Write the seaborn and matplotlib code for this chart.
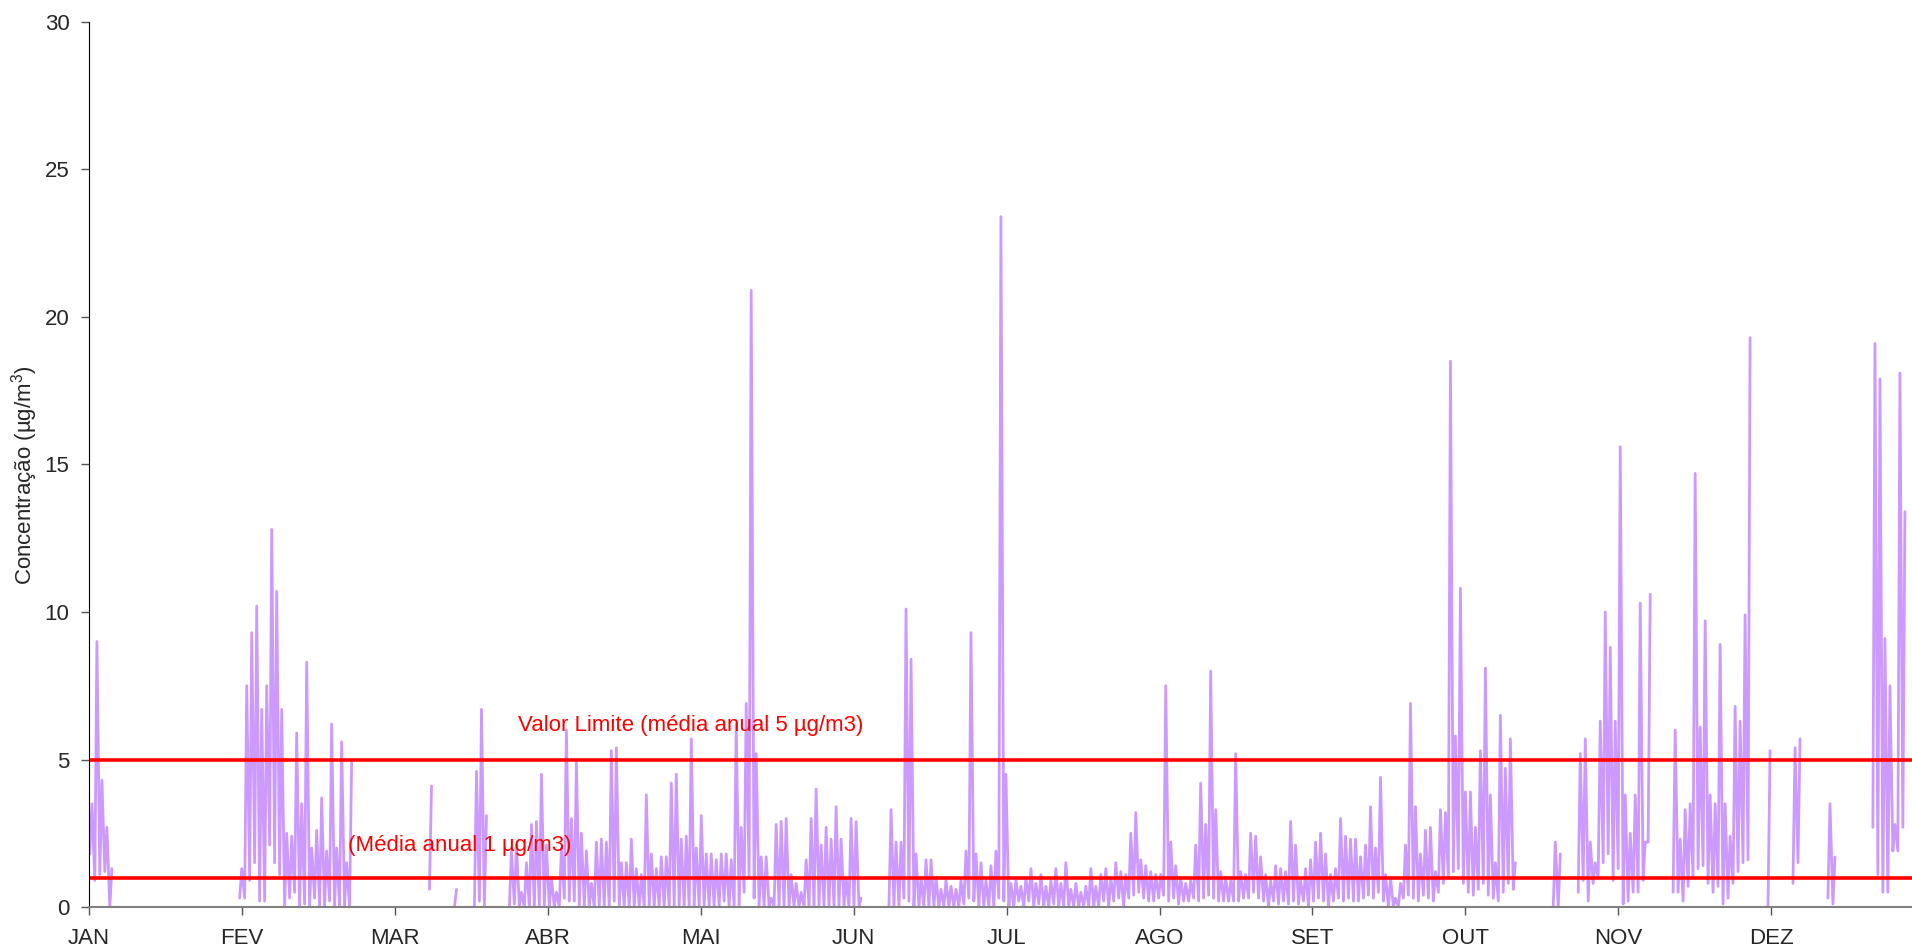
import numpy as np
import pandas as pd
import matplotlib
matplotlib.use('Agg')
import matplotlib.pyplot as plt
import seaborn as sns

# daily (max, min) concentration, None = no data
N = None
jan = [(3.5, 1.8), (9.0, 0.9), (4.3, 1.1), (2.7, 1.2), (1.3, 0.0)] + [N] * 25 + [(1.3, 0.3)]
fev = [(7.5, 0.3), (9.3, 0.9), (10.2, 1.5), (6.7, 0.2), (7.5, 0.2), (12.8, 2.1), (10.7, 1.5),
       (6.7, 1.1), (2.5, 0.0), (2.4, 0.3), (5.9, 0.5), (3.5, 0.0), (8.3, 0.1), (2.0, 0.0),
       (2.6, 0.3), (3.7, 0.0), (1.9, 0.0), (6.2, 0.2), (2.0, 0.0), (5.6, 0.0), (1.5, 0.0),
       (4.9, 0.0)] + [N] * 6
mar = [N] * 9 + [(4.1, 0.6)] + [N] * 4 + [(0.6, 0.0)] + [N] * 3 + \
      [(4.6, 0.0), (6.7, 0.2), (3.1, 0.0)] + [N] * 4 + \
      [(1.9, 0.0), (2.1, 0.1), (0.5, 0.0), (1.5, 0.0), (2.8, 0.0), (2.9, 0.0)]
abr = [(4.5, 0.0), (2.1, 0.0), (1.0, 0.0), (0.5, 0.0), (2.0, 0.0), (6.0, 0.3), (3.0, 0.2),
       (4.9, 0.2), (2.5, 0.0), (1.9, 0.0), (0.8, 0.0), (2.2, 0.0), (2.3, 0.0), (2.2, 0.0),
       (5.3, 0.0), (5.4, 0.2), (1.5, 0.0), (1.5, 0.0), (2.3, 0.0), (1.3, 0.0), (1.1, 0.0),
       (3.8, 0.0), (1.8, 0.0), (1.3, 0.0), (1.7, 0.0), (1.7, 0.0), (4.2, 0.0), (4.5, 0.0),
       (2.3, 0.0), (2.4, 0.0)]
mai = [(5.7, 0.0), (2.0, 0.0), (3.1, 0.0), (1.8, 0.0), (1.8, 0.0), (1.6, 0.0), (1.8, 0.0),
       (1.8, 0.2), (1.6, 0.0), (6.2, 0.0), (2.7, 0.0), (6.9, 0.5), (20.9, 1.0), (5.2, 0.3),
       (1.7, 0.0), (1.7, 0.0), (0.3, 0.0), (2.8, 0.0), (2.9, 0.0), (3.0, 0.0), (1.1, 0.0),
       (0.8, 0.0), (0.5, 0.0), (1.6, 0.0), (3.0, 0.0), (4.0, 0.0), (2.1, 0.0), (2.7, 0.0),
       (2.3, 0.0), (3.4, 0.0), (2.3, 0.0)]
jun = [(1.0, 0.0), (3.0, 0.0), (2.9, 0.0), (0.3, 0.0)] + [N] * 5 + \
      [(3.3, 0.0), (2.2, 0.0), (2.2, 0.0), (10.1, 0.3), (8.4, 0.2), (1.8, 0.0), (1.0, 0.0),
       (1.6, 0.0), (1.6, 0.0), (1.0, 0.0), (0.6, 0.0), (0.9, 0.0), (0.7, 0.0), (0.6, 0.0),
       (0.9, 0.0), (1.9, 0.1), (9.3, 0.3), (1.8, 0.2), (1.5, 0.0), (0.9, 0.0), (1.4, 0.0)]
jul = [(1.9, 0.0), (23.4, 0.3), (4.5, 0.2), (0.8, 0.0), (0.9, 0.0), (0.7, 0.2), (1.0, 0.0),
       (1.3, 0.2), (0.8, 0.0), (1.1, 0.1), (0.7, 0.0), (0.9, 0.0), (1.3, 0.1), (0.8, 0.0),
       (1.5, 0.0), (0.6, 0.0), (0.8, 0.0), (0.5, 0.0), (0.7, 0.0), (1.3, 0.0), (0.7, 0.0),
       (1.1, 0.0), (1.3, 0.2), (1.0, 0.0), (1.5, 0.2), (1.2, 0.3), (1.1, 0.0), (2.5, 0.3),
       (3.2, 0.4), (1.6, 0.5), (1.4, 0.3)]
ago = [(1.2, 0.2), (1.1, 0.2), (1.1, 0.3), (7.5, 0.4), (2.2, 0.2), (1.4, 0.3), (1.0, 0.1),
       (0.8, 0.2), (0.9, 0.2), (2.1, 0.3), (4.2, 0.2), (2.8, 0.3), (8.0, 0.4), (3.3, 0.3),
       (1.2, 0.2), (1.0, 0.2), (0.9, 0.2), (5.2, 0.2), (1.2, 0.2), (1.1, 0.3), (2.5, 0.3),
       (2.4, 0.5), (1.7, 0.3), (1.1, 0.2), (0.9, 0.0), (1.4, 0.2), (1.3, 0.1), (1.2, 0.2),
       (2.9, 0.1), (2.1, 0.2), (0.9, 0.1)]
set_ = [(1.3, 0.2), (1.6, 0.0), (2.2, 0.2), (2.5, 0.3), (1.8, 0.2), (1.1, 0.0), (1.3, 0.2),
        (3.0, 0.3), (2.4, 0.2), (2.3, 0.3), (2.3, 0.2), (1.7, 0.2), (2.1, 0.3), (3.4, 0.4),
        (2.0, 0.3), (4.4, 0.5), (1.1, 0.2), (1.0, 0.0), (0.3, 0.0), (0.8, 0.0), (2.1, 0.3),
        (6.9, 0.4), (3.4, 0.3), (1.8, 0.2), (2.6, 0.4), (2.7, 0.3), (1.2, 0.2), (3.3, 0.5),
        (3.2, 0.8), (18.5, 1.0)]
out = [(5.8, 1.2), (10.8, 1.3), (3.9, 0.8), (3.9, 0.5), (2.7, 0.4), (5.3, 0.6), (8.1, 0.8),
       (3.8, 0.4), (1.5, 0.3), (6.5, 0.2), (4.7, 0.5), (5.7, 0.8), (1.5, 0.6)] + [N] * 7 + \
      [(2.2, 0.0), (1.8, 0.0)] + [N] * 3 + \
      [(5.2, 0.5), (5.7, 0.9), (2.2, 0.2), (1.5, 0.8), (6.3, 1.0), (10.0, 1.5)]
nov = [(8.8, 1.8), (6.3, 0.9), (15.6, 1.3), (3.8, 0.1), (2.5, 0.2), (3.8, 0.5), (10.3, 0.5),
       (2.2, 0.9), (10.6, 2.2)] + [N] * 4 + \
      [(6.0, 0.5), (2.3, 0.5), (3.3, 0.2), (3.5, 0.7), (14.7, 1.0), (6.1, 1.3), (9.7, 1.4),
       (3.8, 0.8), (3.5, 0.5), (8.9, 0.7), (3.5, 0.1), (2.4, 0.3), (6.8, 0.8), (6.3, 1.2),
       (9.9, 1.5), (19.3, 1.6), N]
dez = [N, N, (5.3, 0.0)] + [N] * 4 + [(5.4, 0.8), (5.7, 1.5)] + [N] * 5 + \
      [(3.5, 0.3), (1.7, 0.1)] + [N] * 7 + \
      [(19.1, 2.7), (17.9, 1.1), (9.1, 0.5), (7.5, 0.5), (2.8, 1.9), (18.1, 1.9), (13.4, 2.7), N]

months = ['JAN', 'FEV', 'MAR', 'ABR', 'MAI', 'JUN', 'JUL', 'AGO', 'SET', 'OUT', 'NOV', 'DEZ']
limite = 5
media_anual = 1

days = jan + fev + mar + abr + mai + jun + jul + ago + set_ + out + nov + dez
assert len(days) == 365, len(days)

rows = []
seg = 0
for d, v in enumerate(days):
    if v is None:
        seg += 1
        continue
    hi, lo = v
    rows.append((d + 4 / 24, lo, seg))
    rows.append((d + 14 / 24, hi, seg))
df = pd.DataFrame(rows, columns=['dia', 'conc', 'seg'])

sns.set_style('ticks')
plt.rcParams['font.family'] = ['Liberation Sans', 'DejaVu Sans']
plt.rcParams['mathtext.fontset'] = 'custom'
plt.rcParams['mathtext.rm'] = 'Liberation Sans'
plt.rcParams['mathtext.it'] = 'Liberation Sans:italic'

fig = plt.figure(figsize=(19.12, 9.52), dpi=100)
ax = fig.add_axes([89 / 1912, 45 / 952, 1823 / 1912, 885 / 952])

sns.lineplot(data=df, x='dia', y='conc', units='seg', estimator=None, sort=False,
             color='#CC99FF', lw=2.0, ax=ax, legend=False)

ax.axhline(limite, color='#FF0000', lw=2.6)
ax.axhline(media_anual, color='#FF0000', lw=2.6)
ax.text(120.5, 6.15, 'Valor Limite (média anual 5 µg/m3)', color='#FF0000',
        ha='center', va='center', fontsize=16)
ax.text(74.3, 2.07, '(Média anual 1 µg/m3)', color='#FF0000',
        ha='center', va='center', fontsize=16)

ax.set_xlim(0, 365)
ax.set_ylim(0, 30)
ax.set_yticks(range(0, 31, 5))
ax.set_xticks([i * 30.62 for i in range(12)])
ax.set_xticklabels(months)
ax.tick_params(axis='both', labelsize=16, length=6, width=1, direction='out')
ax.tick_params(axis='x', pad=9, color='#555555')
ax.tick_params(axis='y', pad=8, color='#555555')
ax.set_xlabel('')
ax.set_ylabel('Concentração (µg/m$^3$)', fontsize=16)
ax.yaxis.set_label_coords(-0.027, 0.488)

for s in ['top', 'right']:
    ax.spines[s].set_visible(False)
ax.spines['left'].set_color('black')
ax.spines['bottom'].set_color('#808080')
ax.spines['bottom'].set_linewidth(1.5)

fig.savefig('out.png', dpi=100)
